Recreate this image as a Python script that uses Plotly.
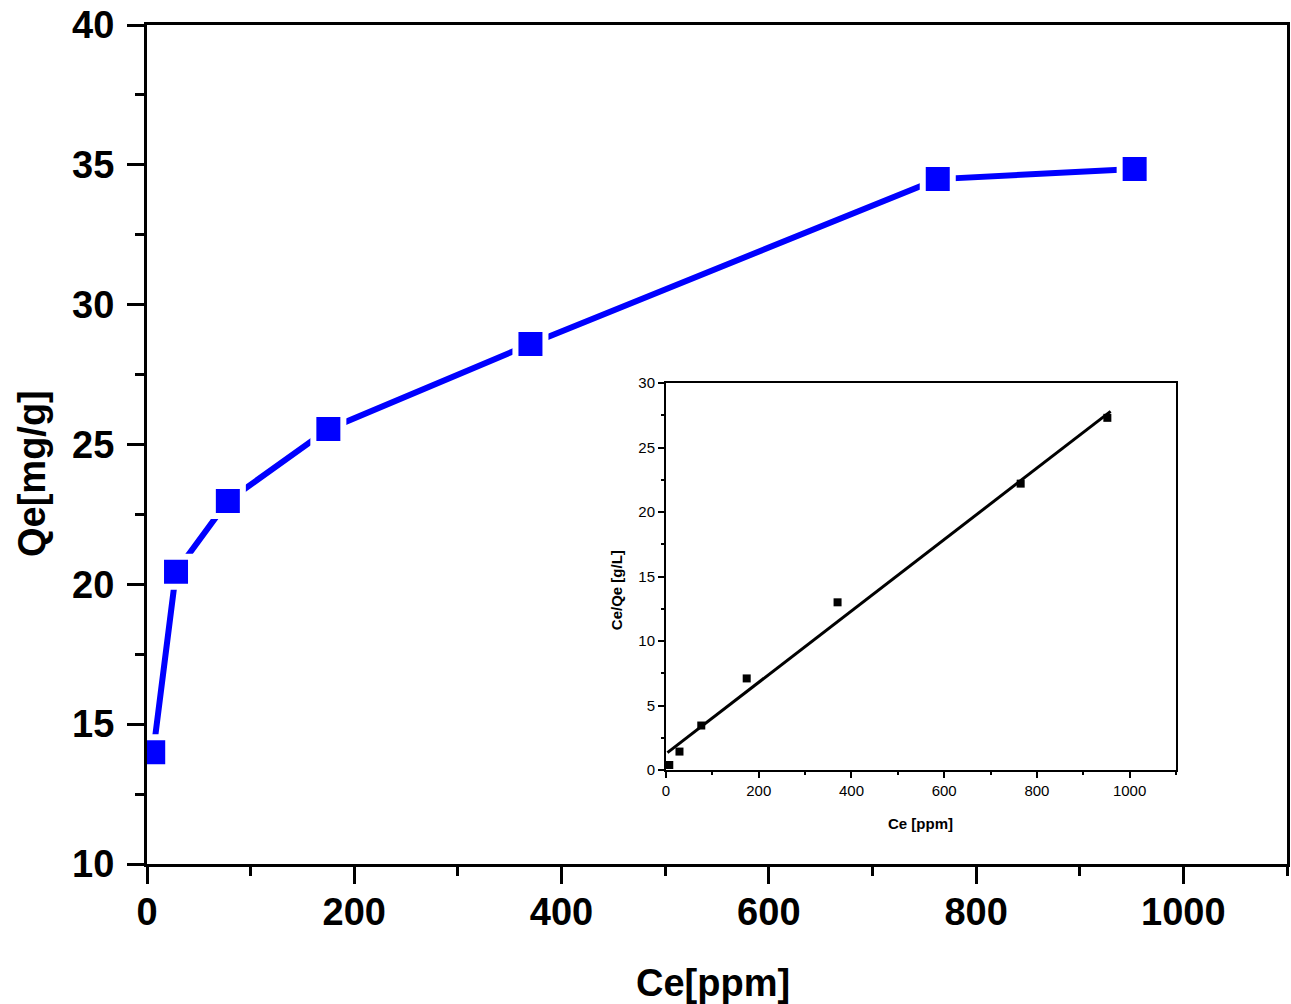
import plotly.graph_objects as go

# Main isotherm data
ce = [6, 28, 78, 175, 370, 763, 953]
qe = [14.0, 20.45, 22.98, 25.55, 28.59, 34.49, 34.85]

# Inset (linearized Langmuir) data
ce_in = [7, 29, 76, 174, 370, 765, 952]
ceqe_in = [0.39, 1.43, 3.45, 7.1, 13.0, 22.2, 27.3]
fit_x = [3, 959]
fit_y = [1.35, 27.8]

FONT = "Arial, Liberation Sans, sans-serif"

fig = go.Figure()

fig.add_trace(go.Scatter(
    x=ce, y=qe, mode="lines+markers",
    line=dict(color="#0000FF", width=6),
    marker=dict(symbol="square", size=30, color="#0000FF",
                line=dict(color="white", width=6)),
    xaxis="x", yaxis="y", showlegend=False,
))

fig.add_trace(go.Scatter(
    x=ce_in, y=ceqe_in, mode="markers",
    marker=dict(symbol="square", size=8, color="black"),
    xaxis="x2", yaxis="y2", showlegend=False,
))
fig.add_trace(go.Scatter(
    x=fit_x, y=fit_y, mode="lines",
    line=dict(color="black", width=3),
    xaxis="x2", yaxis="y2", showlegend=False,
))

main_axis = dict(
    showline=True, linewidth=3, linecolor="black", mirror=True,
    ticks="outside", ticklen=17, tickwidth=3, tickcolor="black",
    showgrid=False, zeroline=False, ticklabeloverflow="allow", automargin=False,
    tickfont=dict(family=FONT, size=38, color="black", weight="bold"),
)

inset_axis = dict(
    showline=True, linewidth=2, linecolor="black", mirror=True,
    ticks="outside", ticklen=6, tickwidth=1.5, tickcolor="black",
    showgrid=False, zeroline=False, automargin=False,
    tickfont=dict(family=FONT, size=15, color="black"),
)

fig.update_layout(
    width=1291, height=1004,
    margin=dict(l=147, r=4, t=25, b=140, autoexpand=False),
    paper_bgcolor="white", plot_bgcolor="white",
    xaxis=dict(range=[0, 1100], dtick=200, tick0=0,
               minor=dict(dtick=100, ticks="outside", ticklen=9, tickwidth=3, tickcolor="black"),
               ticklabelstandoff=-5, **main_axis),
    yaxis=dict(range=[10, 40], dtick=5, tick0=10,
               minor=dict(dtick=2.5, ticks="outside", ticklen=9, tickwidth=3, tickcolor="black"),
               ticklabelstandoff=5, **main_axis),
    xaxis2=dict(domain=[0.4553, 0.9026], anchor="y2", range=[0, 1100], dtick=200, tick0=0,
                minor=dict(dtick=100, ticks="outside", ticklen=3, tickwidth=1.5, tickcolor="black"),
                **inset_axis),
    yaxis2=dict(domain=[0.1120, 0.5733], anchor="x2", range=[0, 30], dtick=5, tick0=0,
                minor=dict(dtick=2.5, ticks="outside", ticklen=3, tickwidth=1.5, tickcolor="black"),
                **inset_axis),
    annotations=[
        dict(text="Ce[ppm]", xref="paper", yref="paper", x=0.4965, y=-0.1415,
             xanchor="center", yanchor="middle", showarrow=False,
             font=dict(family=FONT, size=38, color="black", weight="bold")),
        dict(text="Qe[mg/g]", xref="paper", yref="paper", x=-0.1009, y=0.466,
             xanchor="center", yanchor="middle", showarrow=False, textangle=-90,
             font=dict(family=FONT, size=38, color="black", weight="bold")),
        dict(text="Ce [ppm]", xref="paper", yref="paper", x=0.6789, y=0.048,
             xanchor="center", yanchor="middle", showarrow=False,
             font=dict(family=FONT, size=15, color="black", weight="bold")),
        dict(text="Ce/Qe [g/L]", xref="paper", yref="paper", x=0.412, y=0.326,
             xanchor="center", yanchor="middle", showarrow=False, textangle=-90,
             font=dict(family=FONT, size=15, color="black", weight="bold")),
    ],
)

fig.write_html("out.html", config={"displayModeBar": False},
               post_script="document.body.style.margin='0px';")
